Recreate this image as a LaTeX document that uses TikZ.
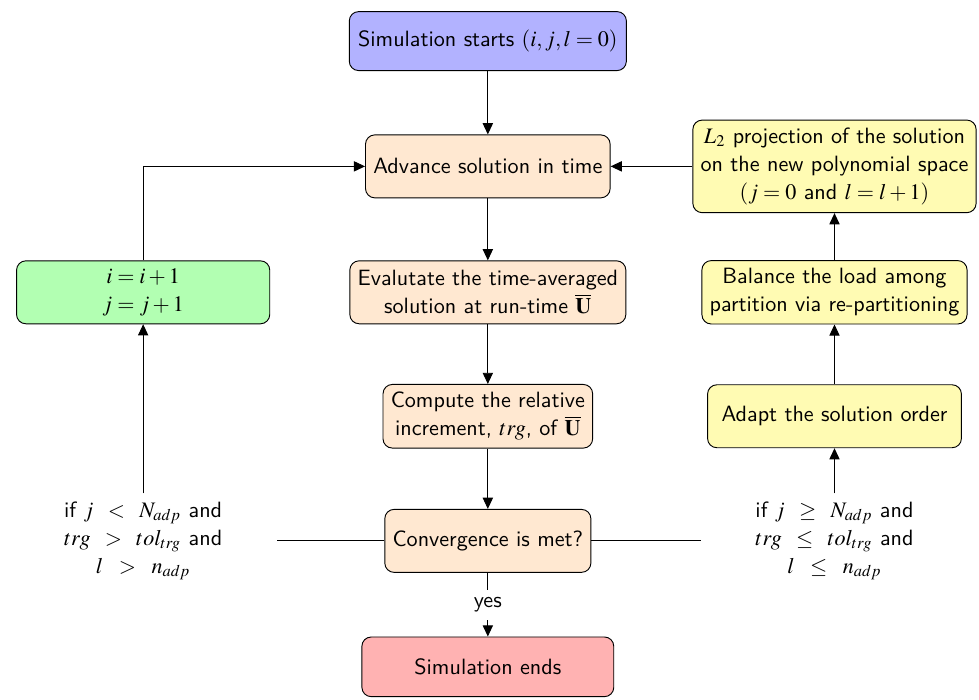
\documentclass[tikz,border=0pt]{standalone}
\usepackage{mathptmx}
\usetikzlibrary{positioning,arrows.meta}
\renewcommand{\familydefault}{\sfdefault}

\tikzset{
  block/.style={draw, rounded corners, align=center, minimum height=0.95cm},
  cond/.style={align=center, text width=3.78cm},
  arr/.style={-{Triangle[length=4.8pt,width=4.4pt]}}
}

\begin{document}
\begin{tikzpicture}[font=\fontsize{9.5}{12}\selectfont]

\useasboundingbox (-7.36,0.62) rectangle (7.41,-9.94);

% Main column
\node [block, fill=blue!30, minimum width=4.18cm, minimum height=0.89cm] (start) at (0,0) {Simulation starts $(i,j,l=0)$};
\node [block, fill=orange!18, minimum width=3.67cm] (advance) at (0,-1.89) {Advance solution in time};
\node [block, fill=orange!18, minimum width=4.15cm] (evaluate) at (0,-3.79) {Evalutate the time-averaged\\solution at run-time $\overline{\mathbf{U}}$};
\node [block, fill=orange!18, minimum width=3.14cm] (compute) at (0,-5.66) {Compute the relative\\increment, $trg$, of $\overline{\mathbf{U}}$};
\node [block, fill=orange!18, minimum width=3.06cm] (converge) at (0,-7.54) {Convergence is met?};
\node [block, fill=red!30, minimum width=3.8cm, minimum height=0.9cm] (end) at (0,-9.44) {Simulation ends};

% Left branch
\node [cond] (condleft) at (-5.2,-7.54) {if $j\ <\ N_{adp}$ and\\$trg\ >\ tol_{trg}$ and\\$l\ >\ n_{adp}$};
\node [block, fill=green!30, minimum width=3.82cm] (update) at (-5.2,-3.79) {$i=i+1$\\$j=j+1$};

% Right branch
\node [cond] (condright) at (5.23,-7.54) {if $j\ \geq\ N_{adp}$ and\\$trg\ \leq\ tol_{trg}$ and\\$l\ \leq\ n_{adp}$};
\node [block, fill=yellow!30, minimum width=3.83cm] (adapt) at (5.23,-5.66) {Adapt the solution order};
\node [block, fill=yellow!30, minimum width=3.98cm] (balance) at (5.23,-3.79) {Balance the load among\\partition via re-partitioning};
\node [block, fill=yellow!30, minimum width=4.25cm, minimum height=1.37cm] (project) at (5.23,-1.89) {$L_2$ projection of the solution\\on the new polynomial space\\$(j=0$ and $l=l+1)$};

%Arrows
\draw [arr] (start) -- (advance);
\draw [arr] (advance) -- (evaluate);
\draw [arr] (evaluate) -- (compute);
\draw [arr] (compute) -- (converge);
\draw [arr] (converge) -- node[fill=white]{yes} (end);

\draw (converge) -- (condleft);
\draw [arr] (condleft) -- (update);
\draw [arr] (update) |- (advance);

\draw (converge) -- (condright);
\draw [arr] (condright) -- (adapt);
\draw [arr] (adapt) -- (balance);
\draw [arr] (balance) -- (project);
\draw [arr] (project) -- (advance);
\end{tikzpicture}
\end{document}
